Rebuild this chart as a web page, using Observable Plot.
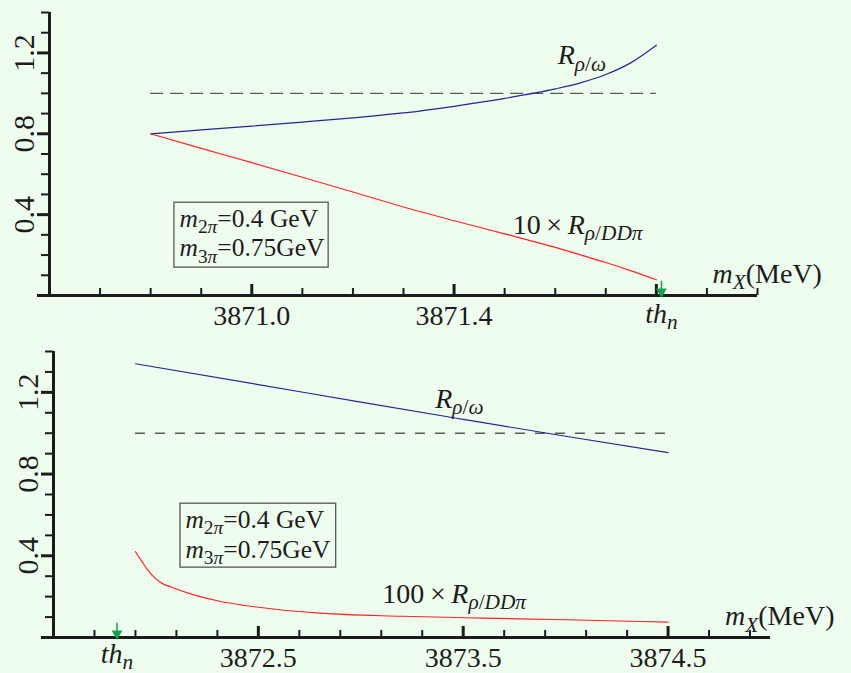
<!DOCTYPE html>
<html><head><meta charset="utf-8">
<script src="https://cdn.jsdelivr.net/npm/d3@7"></script>
<script src="https://cdn.jsdelivr.net/npm/@observablehq/plot@0.6"></script>
<style>
html,body{margin:0;padding:0;background:#effdef;}
#chart{width:851px;height:673px;overflow:hidden;}
svg{display:block;}
</style></head><body><div id="chart"></div>
<script>
// ---------------- data ----------------
const thN = 3871.81;

// top panel
const topX        = [3870.8, 3870.9, 3871.0, 3871.1, 3871.2, 3871.3, 3871.4, 3871.5, 3871.6, 3871.65, 3871.7, 3871.75, 3871.8];
const topRhoOmega = [0.800, 0.819, 0.838, 0.858, 0.879, 0.903, 0.936, 0.975, 1.022, 1.052, 1.093, 1.152, 1.238];
const topRhoDDpi  = [0.800, 0.728, 0.657, 0.585, 0.512, 0.438, 0.370, 0.305, 0.238, 0.201, 0.163, 0.122, 0.078];
const topXMinor = [3870.7, 3870.8, 3870.9, 3871.1, 3871.2, 3871.3, 3871.5, 3871.6, 3871.7, 3871.9, 3872.0];
const topXMajor = [3871.0, 3871.4, 3871.8];
const topXLabels = [3871.0, 3871.4];

// bottom panel
const botBlueX    = [3871.9, 3872.5, 3873.0, 3873.5, 3874.0, 3874.5];
const botRhoOmega = [1.340, 1.238, 1.152, 1.068, 0.985, 0.905];
const botRedX     = [3871.9, 3871.93, 3871.96, 3872.0, 3872.03, 3872.08, 3872.15, 3872.3, 3872.5, 3872.8, 3873.2, 3873.6, 3874.0, 3874.5];
const botRhoDDpi  = [0.420, 0.375, 0.330, 0.287, 0.265, 0.245, 0.220, 0.180, 0.148, 0.119, 0.104, 0.095, 0.087, 0.075];
const botXMinor = [3871.7, 3871.9, 3872.1, 3872.3, 3872.7, 3872.9, 3873.1, 3873.3, 3873.7, 3873.9, 3874.1, 3874.3, 3874.7, 3874.9];
const botXMajor = [3872.5, 3873.5, 3874.5];
const botXLabels = [3872.5, 3873.5, 3874.5];

const yMinor = [0.1, 0.2, 0.3, 0.5, 0.6, 0.7, 0.9, 1.0, 1.1, 1.3, 1.4];
const yMajor = [0, 0.4, 0.8, 1.2];
const yLabels = [0.4, 0.8, 1.2];

const boxText = ["*m*_{2*π*}=0.4 GeV", "*m*_{3*π*}=0.75GeV"];
const lblOmega = "*R*_{*ρ*/*ω*}";
const lblTop10 = "10\u2009×\u2009*R*_{*ρ*/*DDπ*}";
const lblBot100 = "100\u2009×\u2009*R*_{*ρ*/*DDπ*}";
const lblAxis = "*m*_{*X*}(MeV)";
const lblTh = "*th*_{*n*}";

// ---------------- drawing ----------------
const SERIF = "'Liberation Serif', 'DejaVu Serif', serif";
const INK = "#1c1c1c";
const BLUE = "#25259a";
const RED = "#ff2424";
const GREEN = "#12a24c";
const fmt = d3.format(".1f");

function panel(c) {
  const blue = c.blueX.map((x, i) => ({x, y: c.blueY[i]}));
  const red = c.redX.map((x, i) => ({x, y: c.redY[i]}));
  return Plot.plot({
    width: 851, height: c.height,
    marginTop: c.mt, marginBottom: c.mb, marginLeft: c.ml, marginRight: c.mr,
    x: {domain: c.xDomain},
    y: {domain: [0, 1.4]},
    style: {background: "transparent", fontFamily: SERIF, color: INK, overflow: "visible"},
    marks: [
      Plot.ruleY([1], {x1: c.refX[0], x2: c.refX[1], stroke: "#585858", strokeWidth: 1.4, strokeDasharray: c.dash}),
      Plot.line(blue, {x: "x", y: "y", stroke: BLUE, strokeWidth: 1.2, curve: "monotone-x"}),
      Plot.line(red, {x: "x", y: "y", stroke: RED, strokeWidth: 1.2, curve: "monotone-x"}),
      Plot.rect([c.box], {x1: "x1", x2: "x2", y1: "y1", y2: "y2", fill: "none", stroke: "#555", strokeWidth: 1.3}),
      Plot.text(c.boxLines, {x: "x", y: "y", text: "t", textAnchor: "start", lineAnchor: "bottom", fontSize: 25.5, fill: INK}),
      Plot.text(c.labels, {x: "x", y: "y", text: "t", textAnchor: "start", lineAnchor: "bottom", fontSize: 28, fill: INK}),
      // axes
      Plot.ruleX([c.xDomain[0]], {stroke: INK, strokeWidth: 3}),
      Plot.ruleY([0], {stroke: INK, strokeWidth: 3}),
      Plot.axisY(yMinor, {tickSize: 8, fill: "none", stroke: INK, strokeWidth: 2}),
      Plot.axisY(yMajor, {tickSize: 12, fill: "none", stroke: INK, strokeWidth: 3}),
      Plot.axisY(yLabels, {tickSize: 0, tickPadding: 16, tickRotate: -90, tickFormat: fmt, fontSize: 30, label: null, fill: INK}),
      Plot.axisX(c.xMinor, {tickSize: -7, fill: "none", stroke: INK, strokeWidth: 2}),
      Plot.axisX(c.xMajor, {tickSize: -11, fill: "none", stroke: INK, strokeWidth: 3}),
      Plot.axisX(c.xLabels, {tickSize: 0, tickPadding: 10, tickFormat: fmt, fontSize: 28, label: null, fill: INK}),
      // threshold marker
      Plot.ruleX([thN], {y1: 0, y2: 0.07, stroke: GREEN, strokeWidth: 1.5}),
      Plot.dot([thN], {x: d => d, frameAnchor: "bottom", dy: -4, symbol: "triangle", rotate: 180, r: 4, fill: GREEN, stroke: "none"}),
      Plot.text([thN], {x: d => d, frameAnchor: "bottom", text: () => lblTh, dy: c.thDy, lineAnchor: "bottom", textAnchor: "middle", fontSize: 28, fill: INK})
    ]
  });
}

const topPanel = panel({
  height: 330, mt: 12, mb: 35, ml: 49, mr: 94, thDy: 27,
  xDomain: [3870.6, 3872.0],
  blueX: topX, blueY: topRhoOmega, redX: topX, redY: topRhoDDpi,
  refX: [3870.8, 3871.8], dash: "13,7",
  xMinor: topXMinor, xMajor: topXMajor, xLabels: topXLabels,
  box: {x1: 3870.847, x2: 3871.152, y1: 0.138, y2: 0.459},
  boxLines: [{x: 3870.857, y: 0.341, t: boxText[0]}, {x: 3870.857, y: 0.193, t: boxText[1]}],
  labels: [
    {x: 3871.605, y: 1.146, t: lblOmega},
    {x: 3871.516, y: 0.306, t: lblTop10},
    {x: 3871.911, y: 0.064, t: lblAxis}
  ]
});

const bottomPanel = panel({
  height: 343, mt: 21, mb: 36, ml: 53, mr: 81, thDy: 25,
  xDomain: [3871.5, 3875.0],
  blueX: botBlueX, blueY: botRhoOmega, redX: botRedX, redY: botRhoDDpi,
  refX: [3871.9, 3874.5], dash: "10,10",
  xMinor: botXMinor, xMajor: botXMajor, xLabels: botXLabels,
  box: {x1: 3872.12, x2: 3872.88, y1: 0.342, y2: 0.655},
  boxLines: [{x: 3872.144, y: 0.538, t: boxText[0]}, {x: 3872.144, y: 0.391, t: boxText[1]}],
  labels: [
    {x: 3873.363, y: 1.125, t: lblOmega},
    {x: 3873.105, y: 0.171, t: lblBot100},
    {x: 3874.778, y: 0.059, t: lblAxis}
  ]
});

const host = document.getElementById("chart");
host.appendChild(topPanel);
host.appendChild(bottomPanel);

// turn *italic* and _{sub} markup into tspans
function richText(svg) {
  svg.querySelectorAll("text").forEach(el => {
    const s = el.textContent;
    if (!/[*_]/.test(s)) return;
    const fs = parseFloat(getComputedStyle(el).fontSize) || 28;
    const segs = [];
    let it = false, sub = false, buf = "";
    const push = () => { if (buf) segs.push({t: buf, it, sub}); buf = ""; };
    for (let i = 0; i < s.length; i++) {
      const ch = s[i];
      if (ch === "*") { push(); it = !it; }
      else if (ch === "_" && s[i + 1] === "{") { push(); sub = true; i++; }
      else if (ch === "}" && sub) { push(); sub = false; }
      else buf += ch;
    }
    push();
    el.textContent = "";
    let cur = false;
    for (const g of segs) {
      const t = document.createElementNS("http://www.w3.org/2000/svg", "tspan");
      t.textContent = g.t;
      if (g.it) t.setAttribute("font-style", "italic");
      if (g.sub) t.setAttribute("font-size", (fs * 0.76).toFixed(1));
      if (g.sub !== cur) { t.setAttribute("dy", ((g.sub ? 1 : -1) * fs * 0.24).toFixed(1)); cur = g.sub; }
      el.appendChild(t);
    }
  });
}
richText(topPanel);
richText(bottomPanel);
</script>
</body></html>
